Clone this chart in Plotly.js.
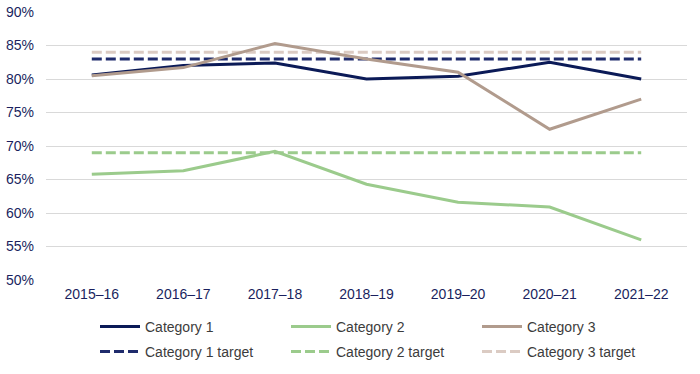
<!DOCTYPE html>
<html>
<head>
<meta charset="utf-8">
<script src="https://cdn.plot.ly/plotly-3.0.1.min.js"></script>
<style>html,body{margin:0;padding:0;background:#fff}#chart{width:700px;height:374px}</style>
</head>
<body>
<div id="chart"></div>
<script>
const years = ["2015–16","2016–17","2017–18","2018–19","2019–20","2020–21","2021–22"];
const category1 = [80.6, 82.0, 82.4, 80.0, 80.4, 82.5, 80.0];
const category2 = [65.8, 66.3, 69.2, 64.3, 61.6, 60.9, 56.0];
const category3 = [80.5, 81.7, 85.3, 83.0, 81.0, 72.5, 77.0];
const category1Target = [83, 83, 83, 83, 83, 83, 83];
const category2Target = [69, 69, 69, 69, 69, 69, 69];
const category3Target = [84, 84, 84, 84, 84, 84, 84];
const yTickVals = [50, 55, 60, 65, 70, 75, 80, 85, 90];
const yTickText = ["50%","55%","60%","65%","70%","75%","80%","85%","90%"];

const dashPattern = "10px,4px";
function tr(name, y, color, rank, legend, dash) {
  return {x: years, y: y, name: name, type: "scatter", mode: "lines", legendrank: rank,
    legend: legend, line: {color: color, width: 3, dash: dash || "solid"}, hoverinfo: "skip"};
}
const data = [
  tr("Category 3 target", category3Target, "#dbcbc3", 6, "legend2", dashPattern),
  tr("Category 1 target", category1Target, "#1f2b6c", 4, "legend2", dashPattern),
  tr("Category 2 target", category2Target, "#9bcb8c", 5, "legend2", dashPattern),
  tr("Category 1", category1, "#0b1a57", 1, "legend"),
  tr("Category 2", category2, "#9bcb8c", 2, "legend"),
  tr("Category 3", category3, "#b19b8d", 3, "legend")
];
const legendBase = {orientation: "h", xref: "container", x: 95 / 700, xanchor: "left",
  yref: "container", yanchor: "middle", entrywidth: 136, entrywidthmode: "pixels",
  itemwidth: 40,
  font: {size: 14, color: "#3c3c3c"}, bgcolor: "rgba(0,0,0,0)"};
const layout = {
  width: 700, height: 374,
  margin: {l: 46, r: 13, t: 12, b: 94},
  paper_bgcolor: "#fff", plot_bgcolor: "#fff",
  font: {family: "Liberation Sans, Arial, sans-serif", size: 14, color: "#1a1f5e"},
  showlegend: true,
  xaxis: {type: "category", range: [-0.5, 6.5], showgrid: false, zeroline: false, showline: false,
    ticks: "", ticklabelstandoff: 4, tickfont: {size: 14, color: "#1a1f5e"}, fixedrange: true},
  yaxis: {range: [50, 90], tickvals: yTickVals, ticktext: yTickText,
    showgrid: true, gridcolor: "#d9d9d9", gridwidth: 1, zeroline: false,
    showline: false, ticks: "", ticklabelstandoff: 11, tickfont: {size: 14, color: "#1a1f5e"}, fixedrange: true},
  legend: Object.assign({}, legendBase, {y: 1 - 327 / 374}),
  legend2: Object.assign({}, legendBase, {y: 1 - 352 / 374})
};
Plotly.newPlot("chart", data, layout, {displayModeBar: false, staticPlot: true});
</script>
</body>
</html>
